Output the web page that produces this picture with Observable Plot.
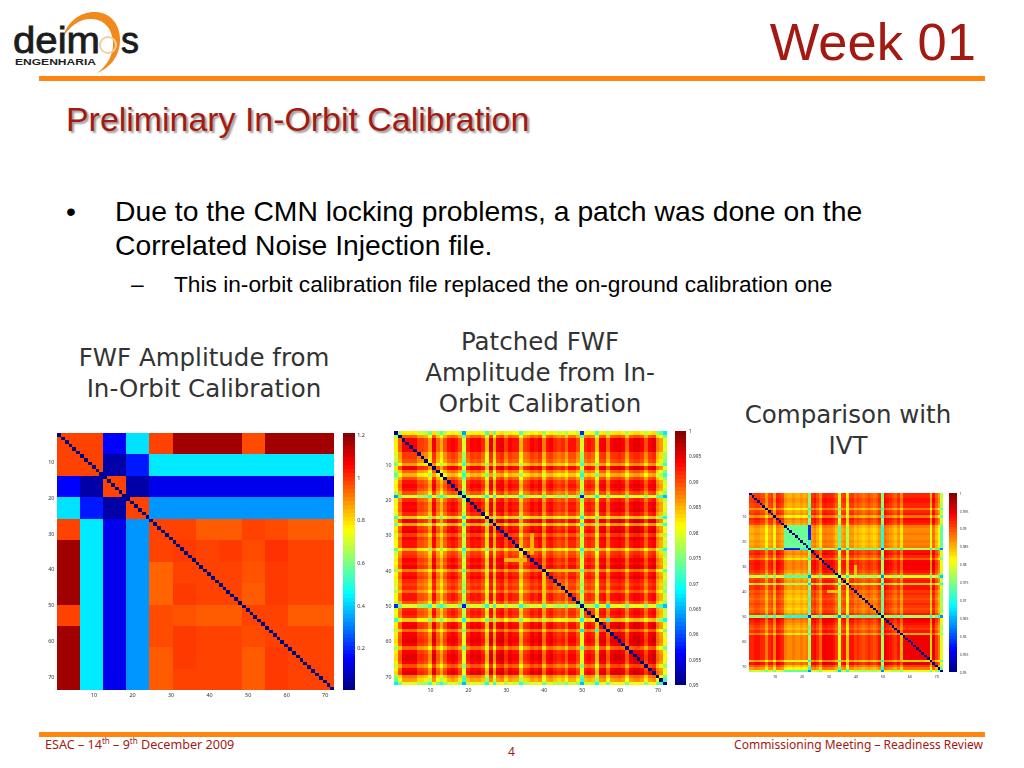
<!DOCTYPE html>
<html><head><meta charset="utf-8">
<script src="https://cdn.jsdelivr.net/npm/d3@7"></script>
<script src="https://cdn.jsdelivr.net/npm/@observablehq/plot@0.6"></script>
<style>
html,body{margin:0;padding:0;background:#fff;overflow:hidden}
#page{position:relative;width:1024px;height:768px;font-family:"Liberation Sans",sans-serif}
.t{position:absolute;white-space:nowrap;line-height:1}
.cap{position:absolute;font-family:"DejaVu Sans",sans-serif;font-size:24.5px;color:#333;text-align:center;transform:translateX(-50%);white-space:nowrap;line-height:31px}
.foot{font-family:"Noto Sans",sans-serif;font-size:12px;color:#a31a12}
.foot sup{font-size:8px;line-height:0}
.rule{position:absolute;background:#ff8410}
.chart{position:absolute}
.chart svg{display:block;background:transparent}
.chart svg g[aria-label="cell"]{filter:blur(.55px)}
.chart svg g[aria-label="rect"]{filter:blur(.3px)}
.chart svg text{filter:blur(.2px)}
</style></head><body><div id="page">
<svg style="position:absolute;left:0;top:0" width="150" height="76">
<path d="M63 37C68 20 82 11 96 12C112 13 120 26 120 40C120 56 110 68 97 73C107 66 114 54 113 42C112 28 104 20 93 19C80 18 70 26 63 37Z" fill="#f08a1d"/>
<circle cx="108" cy="45" r="8" fill="none" stroke="#f6cf9e" stroke-width="2"/>
<text x="13" y="53" font-family="Liberation Sans" font-size="36" fill="#1c1c1c" stroke="#1c1c1c" stroke-width=".8" textLength="87" lengthAdjust="spacingAndGlyphs">deim</text>
<text x="121" y="53" font-family="Liberation Sans" font-size="36" fill="#1c1c1c" stroke="#1c1c1c" stroke-width=".8">s</text>
<text x="15" y="65" font-family="Liberation Sans" font-weight="bold" font-size="9" fill="#222" textLength="81" lengthAdjust="spacingAndGlyphs">ENGENHARIA</text>
</svg>
<div class="t" style="right:48px;top:16px;font-size:52.5px;color:#a31a12">Week 01</div>
<div class="rule" style="left:39px;top:76px;width:946px;height:5px"></div>
<div class="t" style="left:66px;top:103px;font-size:33.9px;color:#a31a12;text-shadow:2px 2px 2px #999">Preliminary In-Orbit Calibration</div>
<div class="t" style="left:66px;top:197px;font-size:28.3px;color:#000">•</div>
<div class="t" style="left:115px;top:197px;font-size:28.3px;color:#000">Due to the CMN locking problems, a patch was done on the</div>
<div class="t" style="left:115px;top:231px;font-size:28.3px;color:#000">Correlated Noise Injection file.</div>
<div class="t" style="left:131px;top:273px;font-size:22.7px;color:#000">–</div>
<div class="t" style="left:174px;top:273px;font-size:22.7px;color:#000">This in-orbit calibration file replaced the on-ground calibration one</div>
<div class="cap" style="left:204px;top:342px">FWF Amplitude from<br>In-Orbit Calibration</div>
<div class="cap" style="left:540px;top:326px">Patched FWF<br>Amplitude from In-<br>Orbit Calibration</div>
<div class="cap" style="left:848px;top:399px">Comparison with<br>IVT</div>
<div class="rule" style="left:39px;top:732px;width:946px;height:5px"></div>
<div class="t foot" style="left:45px;top:739px;font-size:12.6px">ESAC – 14<sup>th</sup> – 9<sup>th</sup> December 2009</div>
<div class="t foot" style="left:508px;top:746px">4</div>
<div class="t foot" style="right:41px;top:739px">Commissioning Meeting – Readiness Review</div>
</div>
<script>
const channels = d3.range(1, 73);
const jetStops = ["#00007f","#0000ff","#007fff","#00ffff","#7fff7f","#ffff00","#ff7f00","#ff0000","#7f0000"];
const tickChannels = [10,20,30,40,50,60,70];

// FWF amplitude: 12 channel groups of 6 (rows top to bottom)
const groupSize = 6;
const fwfGroups = [
 [.98,.98,.15,.42,.98,1.17,1.17,1.17,.97,1.17,1.17,1.17],
 [.98,.98,.05,.18,.43,.43,.43,.43,.43,.43,.43,.43],
 [.15,.05,.98,.05,.13,.13,.13,.13,.13,.13,.13,.13],
 [.42,.18,.05,.98,.33,.33,.33,.33,.33,.33,.33,.33],
 [.98,.43,.13,.33,.98,.98,.95,.95,.98,.97,.95,.95],
 [1.17,.43,.13,.33,.98,.99,.98,.99,.97,1.0,.98,.98],
 [1.17,.43,.13,.33,.94,.98,.98,.98,.96,.99,.98,.98],
 [1.17,.43,.13,.33,.94,.99,.98,.98,.95,.99,.98,.98],
 [.98,.43,.13,.33,.97,.96,.95,.95,.98,.98,.95,.95],
 [1.17,.43,.13,.33,.97,.99,.98,.98,.97,.98,.98,.98],
 [1.17,.43,.13,.33,.95,.99,.98,.98,.95,.99,.98,.98],
 [1.17,.43,.13,.33,.95,.98,.98,.98,.95,.99,.98,.98]
];
// Patched FWF: deficit of each channel
const patchedDeficit = [.014,.007,.002,.002,.002,.002,.005,.005,.006,.010,.0015,.007,.011,.006,.003,.002,.003,.006,.0165,.004,.002,.0025,.002,.004,.012,.001,.010,.002,.001,.005,.002,.003,.003,.011,.005,.004,.002,.003,.0015,.008,.003,.002,.004,.005,.004,.007,.003,.003,.006,.0165,.004,.003,.004,.012,.002,.0015,.007,.002,.0015,.001,.002,.007,.002,.001,.001,.002,.006,.002,.001,.008,.010,.016];
const patchedPatches = [[1,1,50,50,.958],[1,1,19,19,.964],[19,19,50,50,.957],[40,40,41,48,.984],[37,37,30,35,.985],[57,57,50,50,.968],[57,57,54,54,.971]];
// IVT comparison
const ivtDeficit = [.004,.004,.003,.003,.004,.004,.008,.004,.003,.008,.002,.003,.004,.008,.009,.009,.008,.009,.009,.008,.009,.008,.019,.003,.002,.004,.007,.002,.0015,.002,.002,.003,.005,.016,.004,.003,.012,.003,.003,.005,.004,.005,.006,.005,.004,.005,.006,.005,.003,.019,.001,.002,.003,.004,.005,.003,.007,.002,.002,.002,.002,.002,.002,.002,.002,.002,.002,.009,.001,.005,.008,.016];
const ivtPatches = [[14,22,14,22,.974],[14,16,14,16,.978],[23,23,14,19,.958],[23,23,50,50,.958],[57,57,58,68,.985],[68,68,58,67,.983],[58,67,58,67,.9945],[40,40,30,33,.984]];
const correlationCeiling = .998;

const patched = (def, patches) => (i, j) => {
  for (const [a,b,c,d,v] of patches)
    if ((i>=a&&i<=b&&j>=c&&j<=d)||(j>=a&&j<=b&&i>=c&&i<=d)) return v;
  return correlationCeiling - def[i-1] - def[j-1];
};
const groupValue = (i, j) => fwfGroups[Math.floor((i-1)/groupSize)][Math.floor((j-1)/groupSize)];

function matrixChart(o) {
  const cells = channels.flatMap(i => channels.map(j => ({i, j, v: i===j ? o.domain[0] : o.value(i,j)})));
  const ml=16, mr=2, mt=2, mb=12;
  const el = Plot.plot({
    width:o.w+ml+mr, height:o.h+mt+mb, marginLeft:ml, marginRight:mr, marginTop:mt, marginBottom:mb,
    style:{background:"transparent"},
    x:{type:"band",domain:channels,padding:0,round:false,axis:null},
    y:{type:"band",domain:channels,padding:0,round:false,axis:null},
    color:{type:"linear",domain:o.domain,interpolate:t=>d3.piecewise(d3.interpolateRgb,jetStops)(t),clamp:true},
    marks:[
      Plot.cell(cells,{x:"j",y:"i",fill:"v",shapeRendering:"crispEdges"}),
      Plot.axisX(tickChannels,{anchor:"bottom",tickSize:0,tickPadding:o.pad,fontSize:o.font,fill:"#333",label:null}),
      Plot.axisY(tickChannels,{anchor:"left",tickSize:0,tickPadding:3,fontSize:o.font,fill:"#333",label:null,dy:o.dy})
    ]
  });
  const box=document.createElement("div");box.className="chart";
  box.style.cssText=`left:${o.x-ml}px;top:${o.y-mt}px;width:${o.w+ml+mr}px;height:${o.h+mt+mb}px`;
  box.appendChild(el);document.getElementById("page").appendChild(box);
}
function barChart(o) {
  const n=64, step=(o.domain[1]-o.domain[0])/n;
  const levels=d3.range(n).map(k=>({lo:o.domain[0]+k*step,hi:o.domain[0]+(k+1)*step,mid:o.domain[0]+(k+.5)*step}));
  const mr=26, mt=2, mb=4;
  const el = Plot.plot({
    width:o.w+mr, height:o.h+mt+mb, marginLeft:0, marginRight:mr, marginTop:mt, marginBottom:mb,
    style:{background:"transparent"},
    x:{axis:null,domain:[0,1]},
    y:{domain:o.domain,axis:null},
    color:{type:"linear",domain:o.domain,interpolate:t=>d3.piecewise(d3.interpolateRgb,jetStops)(t)},
    marks:[
      Plot.rect(levels,{x1:()=>0,x2:()=>1,y1:"lo",y2:"hi",fill:"mid",shapeRendering:"crispEdges"}),
      Plot.axisY(o.ticks,{anchor:"right",tickSize:0,tickPadding:2,fontSize:o.font,fill:"#333",label:null,tickFormat:o.fmt})
    ]
  });
  const box=document.createElement("div");box.className="chart";
  box.style.cssText=`left:${o.x}px;top:${o.y-mt}px;width:${o.w+mr}px;height:${o.h+mt+mb}px`;
  box.appendChild(el);document.getElementById("page").appendChild(box);
}
const fine = [.95,.955,.96,.965,.97,.975,.98,.985,.99,.995,1];
const fmt = d3.format("~g");
matrixChart({x:57,y:433.3,w:277.3,h:257.4,domain:[0,1.21],value:groupValue,font:5.5,pad:2,dy:-5});
barChart({x:343.3,y:433.3,w:11.7,h:257.4,domain:[0,1.21],ticks:[.2,.4,.6,.8,1,1.2],font:5.5,fmt});
matrixChart({x:393.7,y:430.7,w:273,h:254.3,domain:[.95,1],value:patched(patchedDeficit,patchedPatches),font:5.2,pad:2,dy:0});
barChart({x:675.3,y:430.7,w:11.4,h:254.3,domain:[.95,1],ticks:fine,font:4.8,fmt});
matrixChart({x:749.3,y:493.3,w:194,h:179.4,domain:[.95,1],value:patched(ivtDeficit,ivtPatches),font:3.8,pad:2,dy:0});
barChart({x:949,y:493.3,w:8.3,h:179.4,domain:[.95,1],ticks:fine,font:3.4,fmt});
</script></body></html>
